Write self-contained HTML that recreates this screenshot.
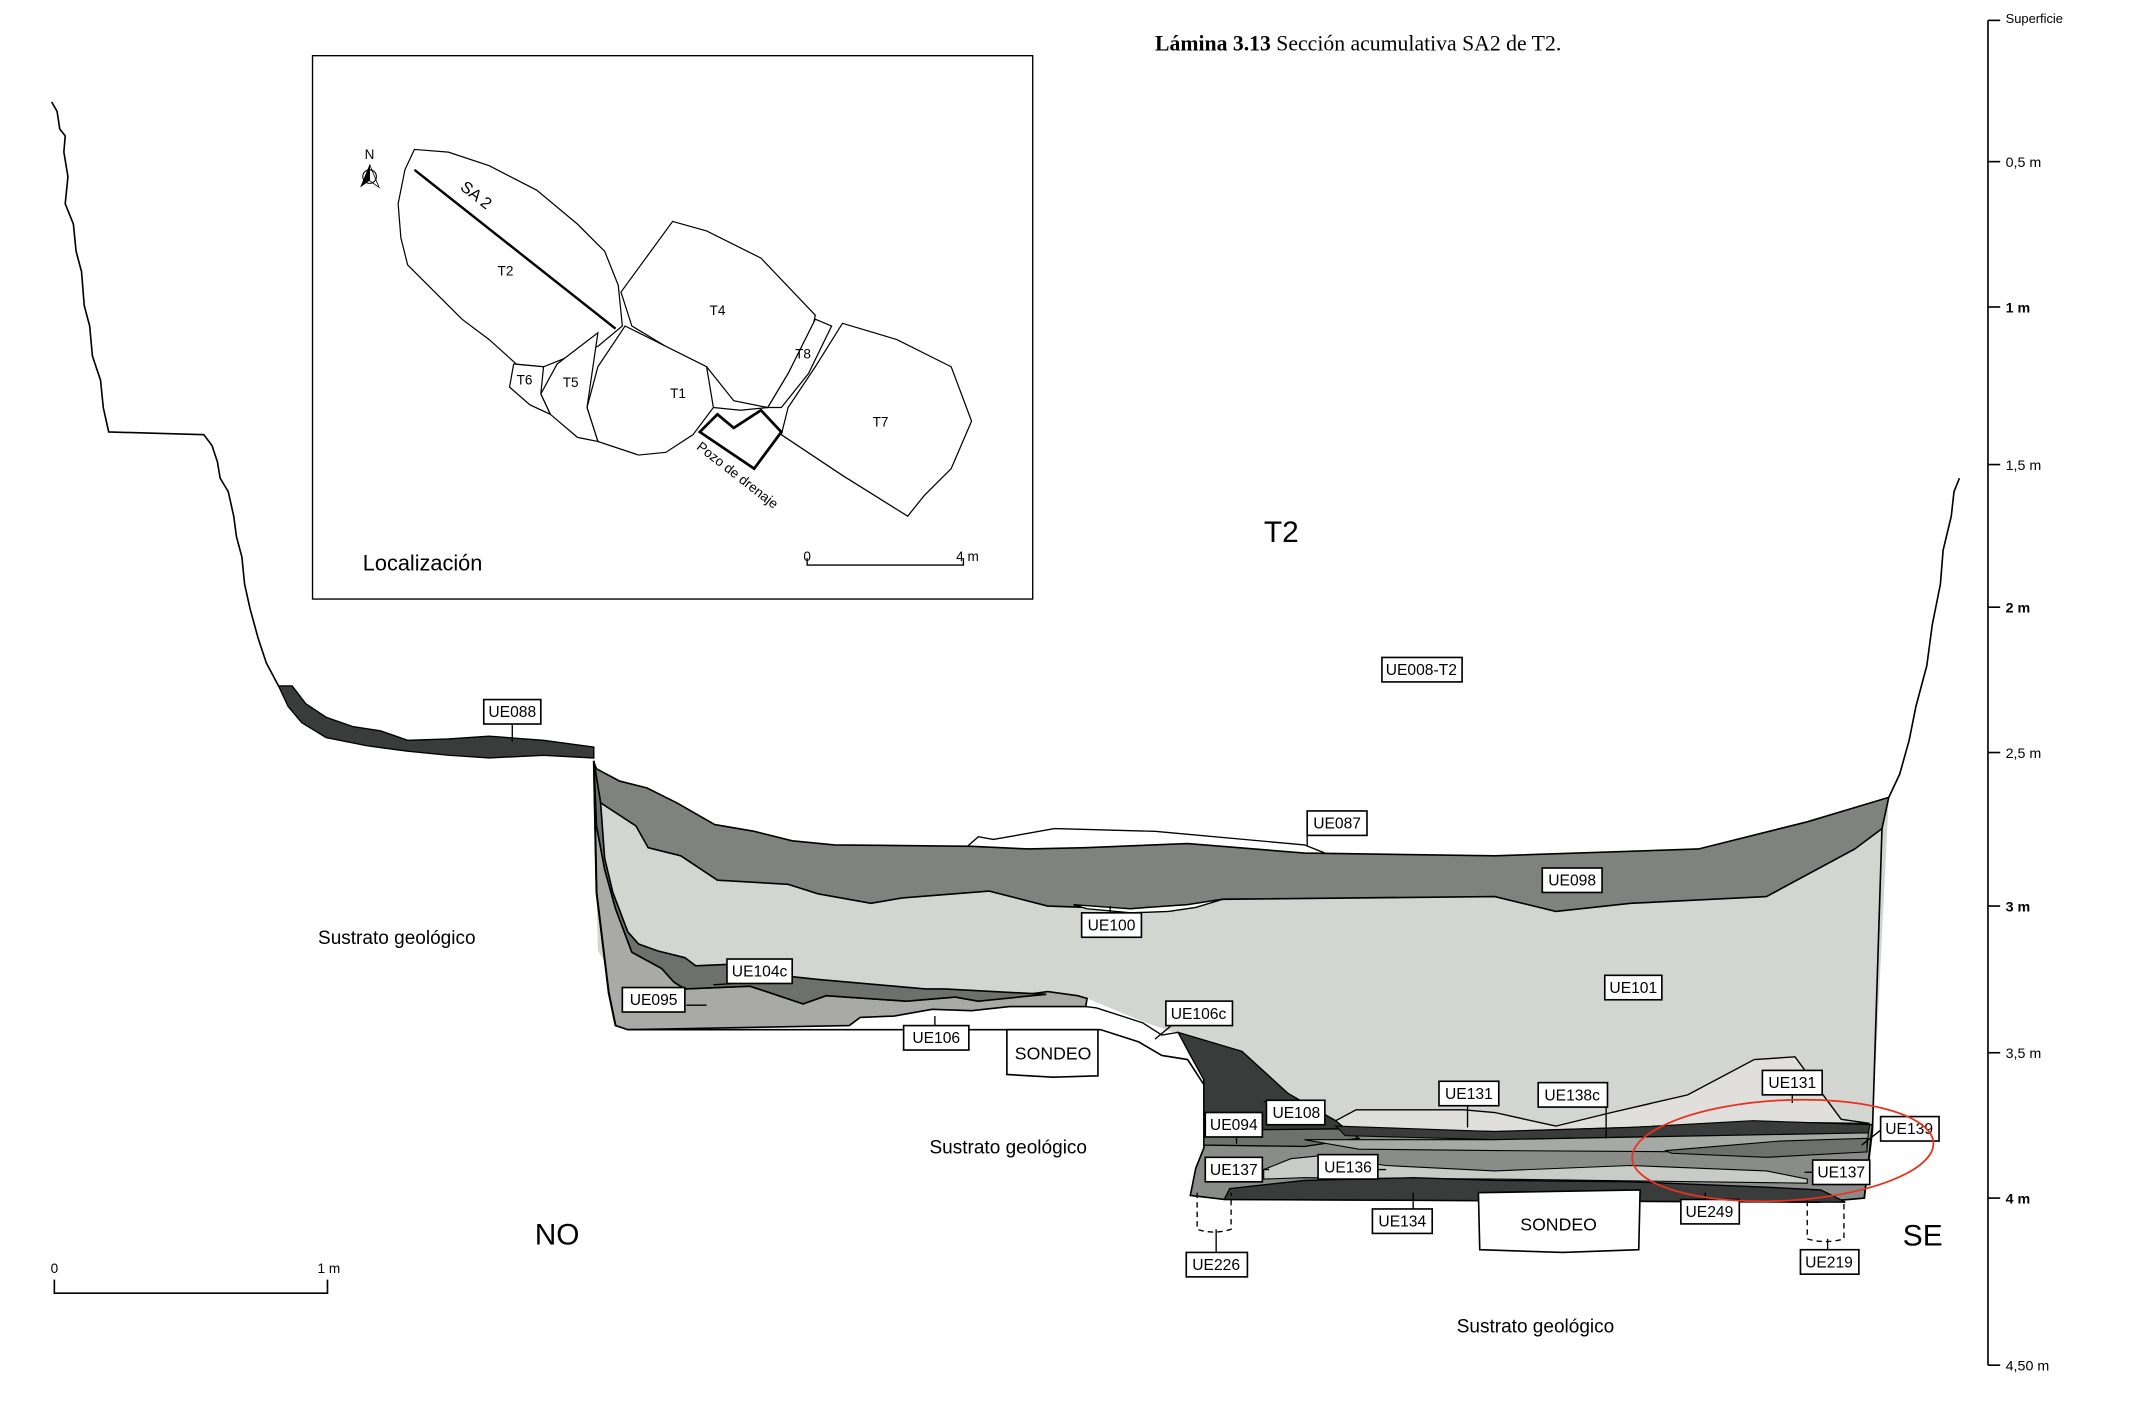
<!DOCTYPE html>
<html><head><meta charset="utf-8"><style>
html,body{margin:0;padding:0;background:#fff;}
svg{display:block}
text{font-family:"Liberation Sans",sans-serif;}
.l{font-size:11.5px;}
</style></head><body>
<svg width="2132" height="1410" viewBox="0 0 1569 1038" preserveAspectRatio="none" xmlns="http://www.w3.org/2000/svg">
<rect width="1569" height="1038" fill="#fff"/>
<text x="850" y="37" font-family="Liberation Serif,serif" style="font-family:'Liberation Serif',serif" font-size="16"><tspan font-weight="bold">Lámina 3.13</tspan>  Sección acumulativa SA2 de T2.</text>

<!-- left profile -->
<polyline fill="none" stroke="#000" stroke-width="1.2" points="38,75 42,82 44,95 48,100 47,112 50,130 48,150 54,165 56,185 60,200 62,225 66,240 68,262 74,280 76,300 80,318 150,320 156,328 160,340 162,352 168,362 172,380 174,395 178,410 180,430 184,448 190,470 196,488 205,505"/>
<polygon fill="#3a3c3b" stroke="#000" stroke-width="1" points="205,505 215,505 225,518 240,528 260,535 280,538 300,545 330,544 360,542 400,545 437,550 437,558 400,556 360,558 330,556 300,553 270,549 240,543 222,532 212,520"/>
<!-- right profile -->
<polyline fill="none" stroke="#000" stroke-width="1.2" points="1442,352 1438,362 1436,380 1430,405 1428,430 1422,460 1418,490 1410,520 1405,545 1398,570 1390,587"/>

<!-- light fill -->
<polygon fill="#d3d5d1" stroke="none" points="437,561 439,566 456,575 476,580 498,591 526,607 555,612 583,619 614,622 715,623 757,625 799,624 874,621 960,628 1100,630 1250,625 1330,605 1390,587 1378,832 990,832 934,805 905,776 870,762 841,752 800,735 462,735 440,700"/>
<!-- UE087 lens -->
<polyline fill="#fff" stroke="#000" stroke-width="1" points="712,623 720,616 731,618 776,610 850,612 960,622 975,628"/>
<!-- UE098 band -->
<polygon fill="#808280" stroke="#000" stroke-width="1.2" points="437,561 439,566 456,575 476,580 498,591 526,607 555,612 583,619 614,622 715,623 757,625 799,624 874,621 960,628 1100,630 1250,625 1330,605 1390,587 1385,610 1365,625 1300,660 1200,665 1145,671 1100,660 900,662 874,666 832,669 771,667 728,656 664,661 641,665 602,658 580,651 528,648 501,630 477,624 468,608 442,591"/>
<!-- UE100 white lens -->
<polygon fill="#fff" stroke="#000" stroke-width="1" points="790,666 832,669 874,666 900,662 880,668 860,671 832,672 800,669"/>
<!-- UE095 region -->
<polygon fill="#a9aaa8" stroke="#000" stroke-width="1.2" points="437,561 439,657 448,731 453,755 462,758 625,755 633,749 658,748 686,743 715,744 743,741 799,741 800,735 793,733 771,730 720,737 703,734 667,737 608,733 591,739 552,726 504,728 496,723 487,713 465,701 453,669 445,640 439,608"/>
<!-- dark band UE104c -->
<polygon fill="#6d706d" stroke="#000" stroke-width="1.2" points="437,561 439,608 445,640 453,669 465,701 487,713 496,723 504,728 552,726 591,739 608,733 667,737 703,734 720,737 770,732 695,728 681,728 602,721 583,719 535,710 512,711 504,705 484,700 470,695 462,686 451,657 445,632 442,591 438,566"/>
<polyline fill="none" stroke="#000" stroke-width="1.5" points="437,560 439,657 448,731 453,755"/>
<!-- white region lower line -->
<polyline fill="none" stroke="#000" stroke-width="1.2" points="462,758 810,758 838,767 855,777 874,780 887,800 887,832"/>
<polyline fill="none" stroke="#000" stroke-width="1" points="799,741 807,742 841,753 855,762 867,760"/>

<!-- bottom section -->
<polygon fill="#8a8c89" stroke="#000" stroke-width="1.2" points="886,790 886,832 1378,828 1372,882 1338,885 901,883 876,880 880,860 886,845"/>
<polygon fill="#3a3c3b" stroke="#000" stroke-width="1" points="867,760 914,774 948,805 983,825 991,832 886,832 886,795 875,775"/>
<polygon fill="#6f716f" stroke="#000" stroke-width="1" points="886,832 990,831 1000,838 960,844 886,843"/>
<polygon fill="#e0dfdb" stroke="#000" stroke-width="1" points="983,825 998,817 1077,817 1100,819 1145,829 1186,819 1242,806 1291,780 1321,778 1332,793 1355,824 1376,827 1290,826 1200,830 1100,833 990,831"/>
<polygon fill="#3a3c3b" stroke="#000" stroke-width="0.8" points="983,829 1100,833 1200,830 1290,825 1376,828 1375,834 1200,837 1100,839 990,836"/>
<polygon fill="#a7a9a6" stroke="#000" stroke-width="0.8" points="960,839 1100,839 1375,834 1374,846 1250,848 1100,847 1000,846"/>
<polygon fill="#6e706e" stroke="#000" stroke-width="0.8" points="1226,847 1310,840 1374,838 1374,848 1300,852 1230,849"/>
<polygon fill="#c9cbc7" stroke="#000" stroke-width="0.8" points="930,861 950,853 970,851 1020,858 1100,862 1200,858 1300,862 1330,868 1330,871 1100,868 960,867 930,868"/>
<polygon fill="#3a3c3b" stroke="#000" stroke-width="1" points="901,883 905,875 960,869 1040,867 1100,869 1200,870 1300,874 1340,876 1358,885"/>
<polyline fill="none" stroke="#000" stroke-width="1.2" points="1385,610 1378,832 1372,882"/>

<!-- sondeos -->
<polygon fill="#fff" stroke="#000" stroke-width="1.2" points="741,758 808,758 808,792 775,793 741,791"/>
<text x="775" y="780" font-size="13" text-anchor="middle">SONDEO</text>
<polygon fill="#fff" stroke="#000" stroke-width="1.2" points="1088,878 1089,920 1150,922 1206,920 1207,876"/>
<text x="1147" y="906" font-size="13" text-anchor="middle">SONDEO</text>
<!-- dashed pits -->
<path d="M881,878 V905 Q893,909 906,905 V878" fill="none" stroke="#000" stroke-dasharray="4,3"/>
<path d="M1330,884 V912 Q1343,916 1357,912 V884" fill="none" stroke="#000" stroke-dasharray="4,3"/>
<line x1="895" y1="905" x2="895" y2="922" stroke="#000"/>
<line x1="1345" y1="912" x2="1345" y2="920" stroke="#000"/>

<!-- leader lines -->
<g stroke="#000" stroke-width="1">
<line x1="377" y1="533" x2="377" y2="546"/>
<line x1="962" y1="615" x2="962" y2="623"/>
<line x1="817" y1="672" x2="817" y2="667"/>
<line x1="520" y1="740" x2="505" y2="740"/>
<line x1="525" y1="725" x2="540" y2="724"/>
<line x1="688" y1="755" x2="688" y2="748"/>
<line x1="862" y1="755" x2="850" y2="765"/>
<line x1="1080" y1="814" x2="1080" y2="830"/>
<line x1="1182" y1="814" x2="1182" y2="838"/>
<line x1="1319" y1="806" x2="1319" y2="812"/>
<line x1="910" y1="837" x2="910" y2="842"/>
<line x1="1384" y1="832" x2="1370" y2="843"/>
<line x1="928" y1="861" x2="934" y2="861"/>
<line x1="1013" y1="861" x2="1020" y2="861"/>
<line x1="1334" y1="863" x2="1328" y2="863"/>
<line x1="1040" y1="890" x2="1040" y2="878"/>
<line x1="1255" y1="883" x2="1255" y2="878"/>
<line x1="930" y1="811" x2="938" y2="811"/>
</g>

<!-- labels -->
<g class="l" fill="#000">
<g stroke="#000" stroke-width="1.2" fill="#fff">
<rect x="356" y="515" width="42" height="18"/>
<rect x="962" y="597" width="44" height="18"/>
<rect x="1135" y="639" width="44" height="18"/>
<rect x="796" y="672" width="44" height="18"/>
<rect x="535" y="706" width="48" height="18"/>
<rect x="458" y="727" width="46" height="18"/>
<rect x="665" y="755" width="48" height="18"/>
<rect x="858" y="737" width="49" height="18"/>
<rect x="1181" y="718" width="42" height="18"/>
<rect x="1017" y="484" width="59" height="18"/>
<rect x="1059" y="796" width="44" height="18"/>
<rect x="1132" y="797" width="51" height="18"/>
<rect x="1297" y="788" width="44" height="18"/>
<rect x="887" y="819" width="42" height="18"/>
<rect x="932" y="810" width="43" height="18"/>
<rect x="1384" y="822" width="43" height="18"/>
<rect x="887" y="852" width="42" height="18"/>
<rect x="970" y="850" width="44" height="18"/>
<rect x="1334" y="854" width="42" height="18"/>
<rect x="1010" y="890" width="44" height="18"/>
<rect x="1237" y="883" width="43" height="18"/>
<rect x="873" y="922" width="45" height="18"/>
<rect x="1325" y="920" width="43" height="18"/>
</g>
<text x="377" y="528" text-anchor="middle">UE088</text>
<text x="984" y="610" text-anchor="middle">UE087</text>
<text x="1157" y="652" text-anchor="middle">UE098</text>
<text x="818" y="685" text-anchor="middle">UE100</text>
<text x="559" y="719" text-anchor="middle">UE104c</text>
<text x="481" y="740" text-anchor="middle">UE095</text>
<text x="689" y="768" text-anchor="middle">UE106</text>
<text x="882" y="750" text-anchor="middle">UE106c</text>
<text x="1202" y="731" text-anchor="middle">UE101</text>
<text x="1046" y="497" text-anchor="middle">UE008-T2</text>
<text x="1081" y="809" text-anchor="middle">UE131</text>
<text x="1157" y="810" text-anchor="middle">UE138c</text>
<text x="1319" y="801" text-anchor="middle">UE131</text>
<text x="908" y="832" text-anchor="middle">UE094</text>
<text x="954" y="823" text-anchor="middle">UE108</text>
<text x="1405" y="835" text-anchor="middle">UE139</text>
<text x="908" y="865" text-anchor="middle">UE137</text>
<text x="992" y="863" text-anchor="middle">UE136</text>
<text x="1355" y="867" text-anchor="middle">UE137</text>
<text x="1032" y="903" text-anchor="middle">UE134</text>
<text x="1258" y="896" text-anchor="middle">UE249</text>
<text x="895" y="935" text-anchor="middle">UE226</text>
<text x="1346" y="933" text-anchor="middle">UE219</text>
</g>

<!-- red ellipse -->
<ellipse cx="1312" cy="847" rx="111" ry="37" fill="none" stroke="#e8321e" stroke-width="1.3" transform="rotate(-3 1312 847)"/>

<!-- big labels -->
<text x="943" y="399" font-size="22" text-anchor="middle">T2</text>
<text x="410" y="916" font-size="22" text-anchor="middle">NO</text>
<text x="1415" y="917" font-size="22" text-anchor="middle">SE</text>
<text x="292" y="695" font-size="14" text-anchor="middle">Sustrato geológico</text>
<text x="742" y="849" font-size="14" text-anchor="middle">Sustrato geológico</text>
<text x="1130" y="981" font-size="14" text-anchor="middle">Sustrato geológico</text>

<!-- bottom-left scale -->
<polyline fill="none" stroke="#000" stroke-width="1.2" points="40,942 40,952 241,952 241,942"/>
<text x="40" y="937" font-size="10" text-anchor="middle">0</text>
<text x="242" y="937" font-size="10" text-anchor="middle">1 m</text>

<!-- right scale -->
<g stroke="#000" stroke-width="1.2">
<line x1="1463" y1="15" x2="1463" y2="1005"/>
<line x1="1463" y1="15" x2="1472" y2="15"/>
<line x1="1463" y1="119" x2="1472" y2="119"/>
<line x1="1463" y1="226" x2="1472" y2="226"/>
<line x1="1463" y1="342" x2="1472" y2="342"/>
<line x1="1463" y1="447" x2="1472" y2="447"/>
<line x1="1463" y1="554" x2="1472" y2="554"/>
<line x1="1463" y1="667" x2="1472" y2="667"/>
<line x1="1463" y1="775" x2="1472" y2="775"/>
<line x1="1463" y1="882" x2="1472" y2="882"/>
<line x1="1463" y1="1005" x2="1472" y2="1005"/>
</g>
<g font-size="10.5">
<text x="1476" y="17" font-size="9.5">Superficie</text>
<text x="1476" y="123">0,5 m</text>
<text x="1476" y="230" font-weight="bold">1 m</text>
<text x="1476" y="346">1,5 m</text>
<text x="1476" y="451" font-weight="bold">2 m</text>
<text x="1476" y="558">2,5 m</text>
<text x="1476" y="671" font-weight="bold">3 m</text>
<text x="1476" y="779">3,5 m</text>
<text x="1476" y="886" font-weight="bold">4 m</text>
<text x="1476" y="1009">4,50 m</text>
</g>

<!-- inset -->
<rect x="230" y="41" width="530" height="400" fill="#fff" stroke="#000" stroke-width="1"/>
<g fill="#fff" stroke="#000" stroke-width="0.9">
<polygon points="305,110 330,112 360,122 395,140 425,165 445,185 455,210 458,240 440,255 420,262 400,270 380,268 360,250 340,235 320,215 300,195 295,175 293,150 298,125"/>
<polygon points="495,163 520,170 560,190 600,232 595,255 580,275 565,300 540,295 520,270 490,255 465,240 457,215"/>
<polygon points="460,240 490,255 520,270 525,300 510,320 490,333 470,335 440,325 432,300 440,270"/>
<polygon points="410,268 440,245 432,300 440,325 425,322 405,305 398,290"/>
<polygon points="378,268 400,270 398,290 405,305 390,298 375,285"/>
<polygon points="600,235 612,240 595,275 575,300 565,300 580,275"/>
<polygon points="620,238 660,250 700,270 715,310 700,345 680,365 668,380 620,350 575,320 580,300 600,270"/>
<polyline fill="none" points="525,300 545,302 565,300"/>
</g>
<polygon points="515,318 528,305 540,315 560,302 575,318 555,345" fill="none" stroke="#000" stroke-width="2"/>
<line x1="305" y1="125" x2="453" y2="242" stroke="#000" stroke-width="1.8"/>
<g font-size="10">
<text x="338" y="139" font-size="12" transform="rotate(38 338 139)">SA 2</text>
<text x="372" y="203" text-anchor="middle">T2</text>
<text x="528" y="232" text-anchor="middle">T4</text>
<text x="499" y="293" text-anchor="middle">T1</text>
<text x="420" y="285" text-anchor="middle">T5</text>
<text x="386" y="283" text-anchor="middle">T6</text>
<text x="591" y="264" text-anchor="middle">T8</text>
<text x="648" y="314" text-anchor="middle">T7</text>
<text x="512" y="330" transform="rotate(38 512 330)">Pozo de drenaje</text>
<text x="272" y="117" text-anchor="middle">N</text>
</g>
<polygon points="272,121 265,138 272,133 279,138" fill="#000"/>
<polygon points="272,121 272,133 279,138" fill="#fff" stroke="#000" stroke-width="0.6"/>
<circle cx="272" cy="130" r="5" fill="none" stroke="#000" stroke-width="0.8"/>
<text x="267" y="420" font-size="16">Localización</text>
<polyline fill="none" stroke="#000" points="594,411 594,416 709,416 709,411"/>
<text x="594" y="413" font-size="10" text-anchor="middle">0</text>
<text x="712" y="413" font-size="10" text-anchor="middle">4 m</text>
</svg>
</body></html>
